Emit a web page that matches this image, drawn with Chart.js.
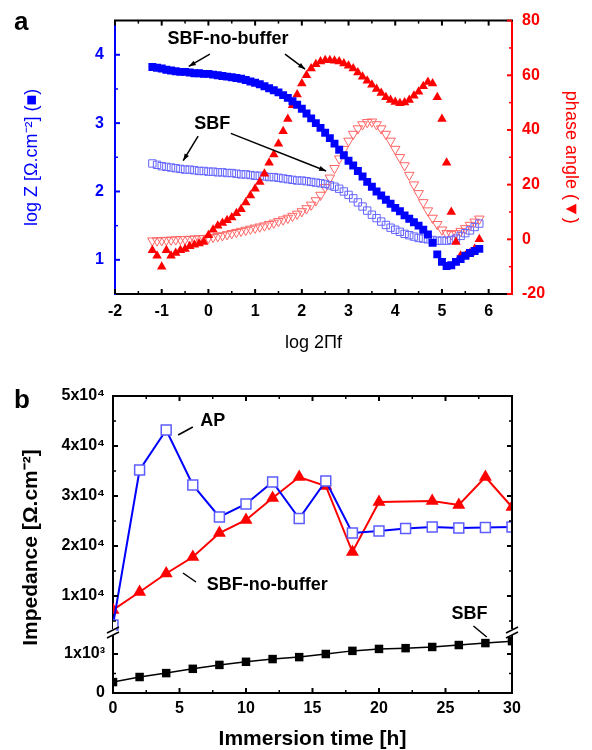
<!DOCTYPE html>
<html>
<head>
<meta charset="utf-8">
<script src="https://cdn.jsdelivr.net/npm/chart.js@4.4.0/dist/chart.umd.min.js"></script>
<style>
  html, body { margin: 0; padding: 0; background: #fff; }
  #wrapA { position: absolute; left: 0; top: 0; width: 592px; height: 370px; }
  #wrapB { position: absolute; left: 0; top: 370px; width: 592px; height: 380px; }
</style>
</head>
<body>
<div id="wrapA"><canvas id="chartA"></canvas></div>
<div id="wrapB"><canvas id="chartB"></canvas></div>
<script>
// (a) Bode plot, x = log 2πf
const logFreq = [-1.2,-1.1,-1.0,-0.9,-0.8,-0.7,-0.6,-0.5,-0.4,-0.3,-0.2,-0.1,
  0.0,0.1,0.2,0.3,0.4,0.5,0.6,0.7,0.8,0.9,
  1.0,1.1,1.2,1.3,1.4,1.5,1.6,1.7,1.8,1.9,
  2.0,2.1,2.2,2.3,2.4,2.5,2.6,2.7,2.8,2.9,
  3.0,3.1,3.2,3.3,3.4,3.5,3.6,3.7,3.8,3.9,
  4.0,4.1,4.2,4.3,4.4,4.5,4.6,4.7,4.8,4.9,
  5.0,5.1,5.2,5.3,5.4,5.5,5.6,5.7,5.8];
const logZNoBuffer = [3.82,3.81,3.80,3.78,3.77,3.76,3.75,3.75,3.74,3.73,3.73,3.72,
  3.72,3.71,3.70,3.69,3.68,3.67,3.66,3.65,3.63,3.61,
  3.59,3.57,3.54,3.51,3.48,3.45,3.41,3.37,3.32,3.27,
  3.21,3.14,3.07,3.00,2.93,2.86,2.78,2.70,2.61,2.53,
  2.45,2.38,2.30,2.22,2.14,2.07,2.00,1.94,1.88,1.82,
  1.76,1.71,1.65,1.60,1.55,1.50,1.44,1.37,1.25,1.08,
  0.97,0.91,0.92,0.97,1.01,1.06,1.10,1.13,1.16];
const logZSbf = [2.41,2.39,2.37,2.36,2.35,2.34,2.33,2.32,2.32,2.31,2.30,2.30,
  2.29,2.29,2.28,2.28,2.27,2.27,2.26,2.25,2.25,2.24,
  2.23,2.23,2.22,2.21,2.21,2.20,2.19,2.18,2.17,2.16,
  2.16,2.15,2.14,2.13,2.12,2.11,2.09,2.07,2.04,2.00,
  1.95,1.90,1.84,1.78,1.72,1.66,1.61,1.56,1.51,1.47,
  1.44,1.41,1.38,1.36,1.34,1.32,1.31,1.30,1.29,1.28,
  1.28,1.28,1.29,1.31,1.35,1.39,1.43,1.48,1.53];
const phaseNoBuffer = [-4,-6,-10,-4,-6,-5,-4,-3.5,-2.5,-2,-1.5,-1,
  1.5,3.5,5,6,7,8,9.5,11,13.5,16,
  18.5,21,24,28,31,35,39.5,44,49,53,
  57,60,62.5,64,65,65.5,65.5,65.3,65,64.3,
  63.5,62.5,61,59.5,58,56.5,55,53.5,52,51,
  50.2,49.8,50,51,52.5,54,56,57.5,57,52,
  44,28,10,-1,-6,-6,-5,-3.5,0];
const phaseSbf = [-0.5,-0.5,-0.4,-0.3,-0.2,-0.1,0,0,0.1,0.2,0.3,0.4,
  0.5,0.8,1.1,1.4,1.8,2.2,2.6,3.0,3.4,3.8,
  4.2,4.6,5.0,5.5,6.0,6.6,7.2,7.8,8.5,9.3,
  10.2,11.3,12.6,14.2,16.2,19,22.5,26,29.5,33,
  36,38.5,40.5,42,42.8,43,42,40.5,38.5,36,
  33,30,27,23.5,20,16.8,13.5,10.5,7.8,5.5,
  3.5,2.2,1.8,2.2,3.0,4.0,5.2,6.4,7.5];

const freqTicks = [-2, -1, 0, 1, 2, 3, 4, 5, 6];
const freqMinor = [-1.5, -0.5, 0.5, 1.5, 2.5, 3.5, 4.5, 5.5];
const logZTicks = [1, 2, 3, 4];
const logZMinor = [1.5, 2.5, 3.5];
const phaseTicks = [-20, 0, 20, 40, 60, 80];
const phaseMinor = [-10, 10, 30, 50, 70];

// (b) impedance vs immersion time
const hours = [0, 2, 4, 6, 8, 10, 12, 14, 16, 18, 20, 22, 24, 26, 28, 30];
const impAP = [4200, 35200, 43200, 32200, 25800, 28400, 32800, 25500, 33000, 22600, 23000, 23500, 23800, 23600, 23700, 23800];
const hoursNoBuffer = [0, 2, 4, 6, 8, 10, 12, 14, 16, 18, 20, 24, 26, 28, 30];
const impNoBuffer = [7200, 10800, 14500, 17800, 22600, 25200, 29600, 33800, 32000, 18800, 28800, 29000, 28200, 33800, 27800];
const impSbf = [280, 410, 510, 620, 720, 800, 870, 920, 1000, 1080, 1130, 1150, 1180, 1230, 1280, 1330];

const timeTicks = [0, 5, 10, 15, 20, 25, 30];
const timeMinor = [2.5, 7.5, 12.5, 17.5, 22.5, 27.5];
const impHighTicks = [10000, 20000, 30000, 40000, 50000];
const impHighLabels = ['1x10⁴', '2x10⁴', '3x10⁴', '4x10⁴', '5x10⁴'];
const impHighMinor = [5000, 15000, 25000, 35000, 45000];
const impLowTicks = [0, 1000];
const impLowLabels = ['0', '1x10³'];
const impLowMinor = [500];

const FONT = '"Liberation Sans", Arial, Helvetica, sans-serif';
const blue = '#0000ff';
const red = '#ff0000';

Chart.defaults.font.family = FONT;
Chart.defaults.animation = false;

const pts = (xs, ys) => xs.map((x, i) => ({ x: x, y: ys[i] }));
const fixTicks = values => scale => { scale.ticks = values.map(v => ({ value: v })); };

// inward tick marks on every side, extra frame lines and the axis break
const axisFrame = {
  id: 'axisFrame',
  afterDraw(chart, args, opts) {
    const ctx = chart.ctx;
    const area = chart.chartArea;
    ctx.save();
    for (const e of opts.edges || []) {
      const s = chart.scales[e.scale];
      ctx.strokeStyle = e.color;
      if (e.line) {
        ctx.lineWidth = 2;
        ctx.beginPath();
        if (e.side === 'top') { ctx.moveTo(area.left - 1, area.top); ctx.lineTo(area.right + 1, area.top); }
        if (e.side === 'right') { ctx.moveTo(area.right, s.top); ctx.lineTo(area.right, s.bottom); }
        ctx.stroke();
      }
      const mark = (v, len) => {
        const p = s.getPixelForValue(v);
        ctx.beginPath();
        if (e.side === 'bottom') { ctx.moveTo(p, area.bottom); ctx.lineTo(p, area.bottom - len); }
        else if (e.side === 'top') { ctx.moveTo(p, area.top); ctx.lineTo(p, area.top + len); }
        else if (e.side === 'left') { ctx.moveTo(area.left, p); ctx.lineTo(area.left + len, p); }
        else { ctx.moveTo(area.right, p); ctx.lineTo(area.right - len, p); }
        ctx.stroke();
      };
      ctx.lineWidth = 2;
      e.major.forEach(v => mark(v, 5));
      ctx.lineWidth = 1.5;
      e.minor.forEach(v => mark(v, 3));
    }
    if (opts.breakAt) {
      const yb = chart.scales[opts.breakAt].bottom;
      [area.left, area.right].forEach(x => {
        ctx.fillStyle = '#fff';
        ctx.fillRect(x - 3, yb - 3, 6, 6);
        ctx.strokeStyle = '#000';
        ctx.lineWidth = 1.5;
        ctx.beginPath();
        ctx.moveTo(x - 6, yb + 1); ctx.lineTo(x + 6, yb - 5);
        ctx.moveTo(x - 6, yb + 6); ctx.lineTo(x + 6, yb);
        ctx.stroke();
      });
    }
    ctx.restore();
  }
};

// sample names, pointer lines and panel letters
const callouts = {
  id: 'callouts',
  afterDraw(chart, args, opts) {
    const ctx = chart.ctx;
    const xs = chart.scales.x;
    const at = p => [xs.getPixelForValue(p[0]), chart.scales[p[2] || 'y'].getPixelForValue(p[1])];
    ctx.save();
    ctx.fillStyle = '#000';
    ctx.strokeStyle = '#000';
    ctx.font = 'bold 18px ' + FONT;
    ctx.textAlign = 'center';
    ctx.textBaseline = 'middle';
    (opts.labels || []).forEach(l => {
      const [x, y] = at(l.at);
      ctx.fillText(l.text, x, y);
    });
    ctx.lineWidth = 1.5;
    (opts.pointers || []).forEach(a => {
      const [x0, y0] = at(a.from);
      const [x1, y1] = at(a.to);
      ctx.beginPath();
      ctx.moveTo(x0, y0);
      ctx.lineTo(x1, y1);
      ctx.stroke();
      if (a.head) {
        const ang = Math.atan2(y1 - y0, x1 - x0);
        ctx.beginPath();
        ctx.moveTo(x1, y1);
        ctx.lineTo(x1 - 7 * Math.cos(ang) + 2.5 * Math.sin(ang), y1 - 7 * Math.sin(ang) - 2.5 * Math.cos(ang));
        ctx.lineTo(x1 - 7 * Math.cos(ang) - 2.5 * Math.sin(ang), y1 - 7 * Math.sin(ang) + 2.5 * Math.cos(ang));
        ctx.closePath();
        ctx.fill();
      }
    });
    if (opts.sideTitle) {
      const area = chart.chartArea;
      ctx.save();
      ctx.translate(opts.sideTitle.x, (area.top + area.bottom) / 2 + 3);
      ctx.rotate(-Math.PI / 2);
      ctx.font = 'bold 21px ' + FONT;
      ctx.fillText(opts.sideTitle.text, 0, 0);
      ctx.restore();
    }
    if (opts.tag) {
      ctx.font = 'bold 26px ' + FONT;
      ctx.textAlign = 'left';
      ctx.textBaseline = 'alphabetic';
      ctx.fillText(opts.tag.text, opts.tag.x, opts.tag.y);
    }
    ctx.restore();
  }
};

const tickFont = { family: FONT, size: 16, weight: 'bold' };

// panel a
new Chart(document.getElementById('chartA'), {
  type: 'scatter',
  data: {
    datasets: [
      { label: 'log Z, SBF-no-buffer', data: pts(logFreq, logZNoBuffer), yAxisID: 'y',
        pointStyle: 'rect', pointRadius: 5.6, backgroundColor: blue, borderColor: blue, borderWidth: 0 },
      { label: 'phase, SBF-no-buffer', data: pts(logFreq, phaseNoBuffer), yAxisID: 'y2',
        pointStyle: 'triangle', pointRadius: 5.5, backgroundColor: red, borderColor: red, borderWidth: 0 },
      { label: 'log Z, SBF', data: pts(logFreq, logZSbf), yAxisID: 'y',
        pointStyle: 'rect', pointRadius: 5.2, backgroundColor: 'rgba(0,0,0,0)', borderColor: '#6464ff', borderWidth: 1 },
      { label: 'phase, SBF', data: pts(logFreq, phaseSbf), yAxisID: 'y2',
        pointStyle: 'triangle', rotation: 180, pointRadius: 5.5, backgroundColor: 'rgba(0,0,0,0)', borderColor: '#ff6464', borderWidth: 1 }
    ]
  },
  options: {
    responsive: true,
    maintainAspectRatio: false,
    events: [],
    layout: { padding: { top: 14, left: 0, right: 0, bottom: 0 } },
    scales: {
      x: {
        type: 'linear', position: 'bottom', min: -2, max: 6.5,
        afterBuildTicks: fixTicks(freqTicks),
        afterFit: s => { s.height = 76; },
        grid: { display: false, drawTicks: false },
        border: { display: true, color: '#000', width: 2 },
        ticks: { color: '#000', font: tickFont, padding: 8, autoSkip: false, maxRotation: 0 },
        title: { display: true, text: 'log 2Πf', color: '#000', font: { family: FONT, size: 18 }, padding: { top: 0, bottom: 16 } }
      },
      y: {
        type: 'linear', position: 'left', min: 0.5, max: 4.5,
        afterBuildTicks: fixTicks(logZTicks),
        afterFit: s => { s.width = 115; },
        grid: { display: false, drawTicks: false },
        border: { display: true, color: blue, width: 2 },
        ticks: { color: blue, font: tickFont, padding: 11, autoSkip: false },
        title: { display: true, text: 'log Z [Ω.cm⁻²] (■)', color: blue, font: { family: FONT, size: 18 }, padding: { top: 21, bottom: 0 } }
      },
      y2: {
        type: 'linear', position: 'right', min: -20, max: 80,
        afterBuildTicks: fixTicks(phaseTicks),
        afterFit: s => { s.width = 80; },
        grid: { display: false, drawTicks: false },
        border: { display: true, color: red, width: 2 },
        ticks: { color: red, font: tickFont, padding: 10, autoSkip: false },
        title: { display: true, text: 'phase angle (▼)', color: red, font: { family: FONT, size: 18 }, padding: { top: 10, bottom: 0 } }
      }
    },
    plugins: {
      legend: { display: false },
      tooltip: { enabled: false },
      axisFrame: {
        edges: [
          { scale: 'x', side: 'bottom', major: freqTicks, minor: freqMinor, color: '#000' },
          { scale: 'x', side: 'top', major: freqTicks, minor: freqMinor, color: '#000', line: true },
          { scale: 'y', side: 'left', major: logZTicks, minor: logZMinor, color: blue },
          { scale: 'y2', side: 'right', major: phaseTicks, minor: phaseMinor, color: red }
        ]
      },
      callouts: {
        labels: [
          { text: 'SBF-no-buffer', at: [0.42, 4.23] },
          { text: 'SBF', at: [0.08, 2.99] }
        ],
        pointers: [
          { from: [0.03, 4.01], to: [-0.42, 3.83], head: true },
          { from: [1.64, 4.01], to: [2.07, 3.79], head: true },
          { from: [-0.22, 2.81], to: [-0.54, 2.45], head: true },
          { from: [0.48, 2.85], to: [2.52, 2.30], head: true }
        ],
        tag: { text: 'a', x: 14, y: 30 }
      }
    }
  },
  plugins: [axisFrame, callouts]
});

// panel b
new Chart(document.getElementById('chartB'), {
  type: 'scatter',
  data: {
    datasets: [
      { label: 'AP', data: pts(hours, impAP), yAxisID: 'yHigh', showLine: true,
        borderColor: blue, borderWidth: 2, pointStyle: 'rect', pointRadius: 7,
        pointBackgroundColor: '#fff', pointBorderColor: '#5c5cff', pointBorderWidth: 1.5 },
      { label: 'SBF-no-buffer', data: pts(hoursNoBuffer, impNoBuffer), yAxisID: 'yHigh', showLine: true,
        borderColor: red, borderWidth: 2, pointStyle: 'triangle', pointRadius: 7.5,
        pointBackgroundColor: red, pointBorderColor: red, pointBorderWidth: 0 },
      { label: 'SBF', data: pts(hours, impSbf), yAxisID: 'yLow', showLine: true,
        borderColor: '#000', borderWidth: 1.5, pointStyle: 'rect', pointRadius: 6,
        pointBackgroundColor: '#000', pointBorderColor: '#000', pointBorderWidth: 0 }
    ]
  },
  options: {
    responsive: true,
    maintainAspectRatio: false,
    events: [],
    layout: { padding: { top: 26, left: 0, right: 80, bottom: 0 } },
    scales: {
      x: {
        type: 'linear', position: 'bottom', min: 0, max: 30,
        afterBuildTicks: fixTicks(timeTicks),
        afterFit: s => { s.height = 57; },
        grid: { display: false, drawTicks: false },
        border: { display: true, color: '#000', width: 2 },
        ticks: { color: '#000', font: tickFont, padding: 6, autoSkip: false, maxRotation: 0 },
        title: { display: true, text: 'Immersion time [h]', color: '#000', font: { family: FONT, size: 21, weight: 'bold', lineHeight: 1 }, padding: { top: 0, bottom: 0 } }
      },
      yLow: {
        type: 'linear', position: 'left', stack: 'imp', stackWeight: 61, weight: 0,
        min: 0, max: 1564,
        afterBuildTicks: fixTicks(impLowTicks),
        afterFit: s => { s.width = 113; },
        grid: { display: false, drawTicks: false },
        border: { display: true, color: '#000', width: 2 },
        ticks: { color: '#000', font: tickFont, padding: 8, autoSkip: false, callback: (v, i) => impLowLabels[i] }
      },
      yHigh: {
        type: 'linear', position: 'left', stack: 'imp', stackWeight: 236, weight: 1,
        min: 2800, max: 50000,
        afterBuildTicks: fixTicks(impHighTicks),
        afterFit: s => { s.width = 113; },
        grid: { display: false, drawTicks: false },
        border: { display: true, color: '#000', width: 2 },
        ticks: { color: '#000', font: tickFont, padding: 8, autoSkip: false, callback: (v, i) => impHighLabels[i] }
      }
    },
    plugins: {
      legend: { display: false },
      tooltip: { enabled: false },
      axisFrame: {
        edges: [
          { scale: 'x', side: 'bottom', major: timeTicks, minor: timeMinor, color: '#000' },
          { scale: 'x', side: 'top', major: timeTicks, minor: timeMinor, color: '#000', line: true },
          { scale: 'yHigh', side: 'left', major: impHighTicks, minor: impHighMinor, color: '#000' },
          { scale: 'yLow', side: 'left', major: impLowTicks, minor: impLowMinor, color: '#000' },
          { scale: 'yHigh', side: 'right', major: impHighTicks, minor: impHighMinor, color: '#000', line: true },
          { scale: 'yLow', side: 'right', major: impLowTicks, minor: impLowMinor, color: '#000', line: true }
        ],
        breakAt: 'yHigh'
      },
      callouts: {
        labels: [
          { text: 'AP', at: [7.5, 45000, 'yHigh'] },
          { text: 'SBF-no-buffer', at: [11.6, 12200, 'yHigh'] },
          { text: 'SBF', at: [26.8, 6400, 'yHigh'] }
        ],
        pointers: [
          { from: [4.9, 42200, 'yHigh'], to: [6.0, 43800, 'yHigh'] },
          { from: [5.26, 14600, 'yHigh'], to: [6.24, 12800, 'yHigh'] },
          { from: [27.1, 4000, 'yHigh'], to: [28.1, 1436, 'yLow'] }
        ],
        sideTitle: { text: 'Impedance [Ω.cm⁻²]', x: 31 },
        tag: { text: 'b', x: 14, y: 38 }
      }
    }
  },
  plugins: [axisFrame, callouts]
});
</script>
</body>
</html>
